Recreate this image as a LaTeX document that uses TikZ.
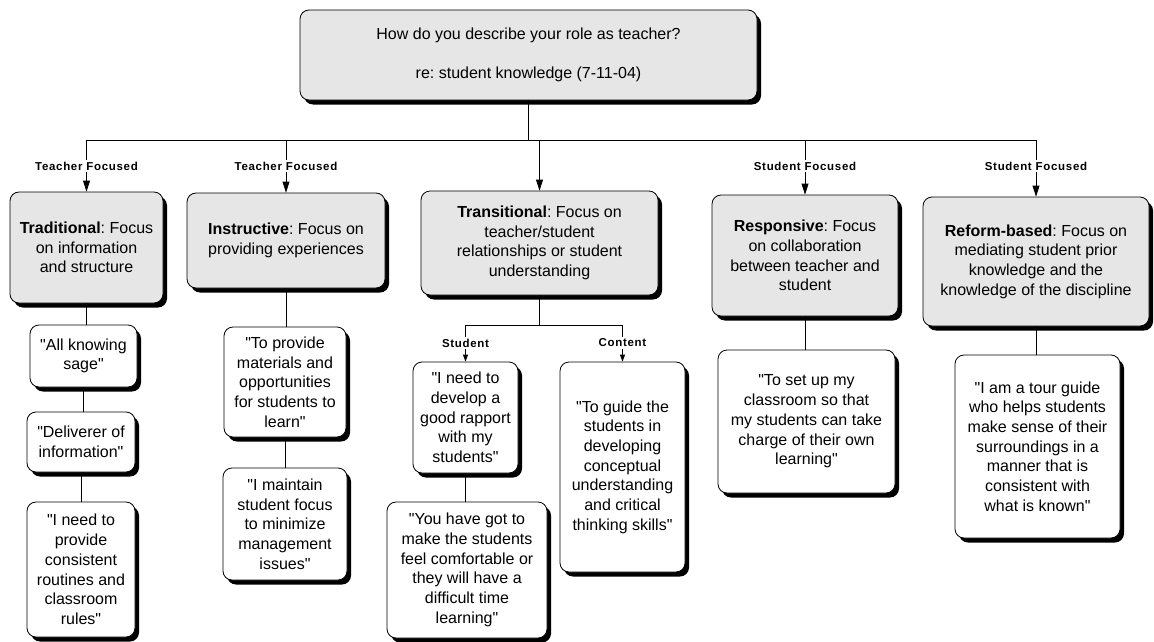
\documentclass[tikz,border=0pt]{standalone}
\usepackage{fontspec}
\setmainfont{Liberation Sans}[Ligatures=TeXOff]
\newfontfamily\tagfont{Liberation Sans}[LetterSpace=6]
\usetikzlibrary{arrows.meta,shadows}
\definecolor{boxgray}{RGB}{230,230,230}
\tikzset{
  card/.style={draw=black, line width=0.8pt, rounded corners=9pt, align=center,
    inner sep=0pt, font=\fontsize{16}{19.7}\selectfont,
    drop shadow={shadow xshift=4pt, shadow yshift=-4.5pt, fill=black, opacity=1}},
  category/.style={card, fill=boxgray},
  quote/.style={card, fill=white},
  link/.style={line width=0.8pt},
  branch/.style={link, -{Triangle[width=7pt,length=11pt]}},
  twig/.style={link, -{Triangle[width=5pt,length=7pt]}},
  tag/.style={fill=white, inner sep=1.5pt, font=\tagfont\bfseries\fontsize{11.5}{13}\selectfont},
}
\begin{document}
\frenchspacing
\begin{tikzpicture}[x=1pt, y=-1pt]
\useasboundingbox (0,0) rectangle (1154,642);

% question at the root
\node[category, minimum width=457pt, minimum height=90pt] (top) at (528.5,55)
  {How do you describe your role as teacher?\\[20pt]re: student knowledge (7-11-04)};

% the five roles
\node[category, minimum width=153pt, minimum height=111pt] (trad) at (86.5,247.5)
  {\textbf{Traditional}: Focus\\on information\\and structure};
\node[category, minimum width=198pt, minimum height=95pt] (instr) at (286,240.5)
  {\textbf{Instructive}: Focus on\\providing experiences};
\node[category, minimum width=237pt, minimum height=104pt] (trans) at (539.5,243)
  {\textbf{Transitional}: Focus on\\teacher/student\\relationships or student\\understanding};
\node[category, minimum width=186pt, minimum height=121pt] (resp) at (805,255.5)
  {\textbf{Responsive}: Focus\\on collaboration\\between teacher and\\student};
\node[category, minimum width=226pt, minimum height=129pt] (reform) at (1036,261.5)
  {\textbf{Reform-based}: Focus on\\mediating student prior\\knowledge and the\\knowledge of the discipline};

% quotes
\node[quote, minimum width=107pt, minimum height=62pt] (sage) at (83.5,356)
  {"All knowing\\sage"};
\node[quote, minimum width=108pt, minimum height=60pt] (deliv) at (81,442)
  {"Deliverer of\\information"};
\node[quote, minimum width=108pt, minimum height=135pt] (routine) at (81,569.5)
  {"I need to\\provide\\consistent\\routines and\\classroom\\rules"};
\node[quote, minimum width=122pt, minimum height=110pt] (provide) at (285,382)
  {"To provide\\materials and\\opportunities\\for students to\\learn"};
\node[quote, minimum width=124pt, minimum height=112pt] (maintain) at (285,524)
  {"I maintain\\student focus\\to minimize\\management\\issues"};
\node[quote, minimum width=105pt, minimum height=111pt] (rapport) at (465.5,417.5)
  {"I need to\\develop a\\good rapport\\with my\\students"};
\node[quote, minimum width=160pt, minimum height=136pt] (comfort) at (467,570)
  {"You have got to\\make the students\\feel comfortable or\\they will have a\\difficult time\\learning"};
\node[quote, minimum width=125pt, minimum height=210pt] (guide) at (622.5,467)
  {"To guide the\\students in\\developing\\conceptual\\understanding\\and critical\\thinking skills"};
\node[quote, minimum width=177pt, minimum height=143pt] (setup) at (806.5,421.5)
  {"To set up my\\classroom so that\\my students can take\\charge of their own\\learning"};
\node[quote, minimum width=165pt, minimum height=183pt] (tour) at (1037.5,446.5)
  {"I am a tour guide\\who helps students\\make sense of their\\surroundings in a\\manner that is\\consistent with\\what is known"};

% rails
\coordinate (bar) at (0,140);
\coordinate (tagline) at (0,166);
\coordinate (split) at (0,325);
\coordinate (subtag) at (0,343);

% root to roles
\draw[link] (top.south) -- (top.south |- bar);
\draw[link] (trad.north |- bar) -- (reform.north |- bar);
\foreach \r in {trad,instr,trans,resp,reform}
  \draw[branch] (\r.north |- bar) -- (\r.north);
\node[tag] (t1) at (trad.north |- tagline) {Teacher Focused};
\node[tag] (t2) at (instr.north |- tagline) {Teacher Focused};
\node[tag] (t3) at (resp.north |- tagline) {Student Focused};
\node[tag] (t4) at (reform.north |- tagline) {Student Focused};

% chains below the roles
\draw[link] (trad.south) -- (trad.south |- sage.north);
\draw[link] (sage.south) -- (sage.south |- deliv.north);
\draw[link] (deliv.south) -- (deliv.south |- routine.north);
\draw[link] (instr.south) -- (instr.south |- provide.north);
\draw[link] (provide.south) -- (provide.south |- maintain.north);
\draw[link] (resp.south) -- (resp.south |- setup.north);
\draw[link] (reform.south) -- (reform.south |- tour.north);

% transitional split
\draw[link] (trans.south) -- (trans.south |- split);
\draw[link] (rapport.north |- split) -- (guide.north |- split);
\draw[twig] (rapport.north |- split) -- (rapport.north);
\draw[twig] (guide.north |- split) -- (guide.north);
\node[tag] (s1) at (rapport.north |- subtag) {Student};
\node[tag] (s2) at (guide.north |- subtag) {Content};
\draw[link] (rapport.south) -- (rapport.south |- comfort.north);
\end{tikzpicture}
\end{document}
